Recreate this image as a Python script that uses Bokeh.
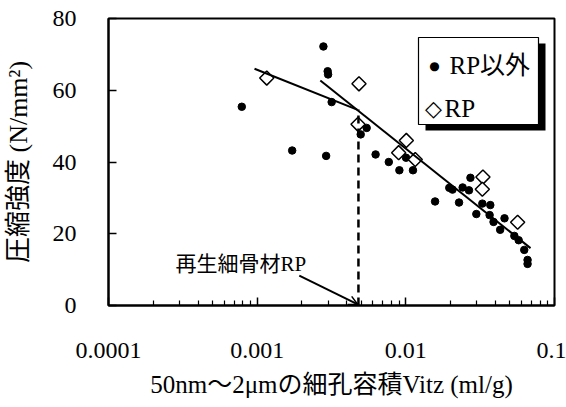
import math
from bokeh.plotting import figure
from bokeh.models import (FixedTicker, CustomJSTickFormatter,
                          Arrow, OpenHead, Range1d, Label, BoxAnnotation)
from bokeh.embed import file_html
from bokeh.resources import INLINE

SERIF = "'Liberation Serif', 'Noto Sans CJK JP'"
SYMBOL = "'DejaVu Sans'"

# ---- data ----
other_x = [0.000788, 0.00172, 0.00279, 0.00298, 0.00300, 0.00291, 0.00317,
           0.00497, 0.00545, 0.00626, 0.00768, 0.00905, 0.01003, 0.01117,
           0.01573, 0.0196, 0.0206, 0.0228, 0.0241, 0.0266, 0.0272, 0.0298,
           0.0327, 0.0370, 0.0366, 0.0389, 0.0461, 0.0431, 0.0537, 0.0574,
           0.0626, 0.0659, 0.0659]
other_y = [55.4, 43.2, 72.2, 65.3, 64.4, 41.7, 56.7,
           47.7, 49.5, 42.1, 40.0, 37.7, 41.2, 37.7,
           29.0, 32.8, 32.3, 28.7, 32.9, 32.1, 35.6, 25.5,
           28.4, 28.0, 25.2, 23.3, 24.3, 21.1, 19.4, 18.2,
           15.5, 12.7, 11.6]

rp_x = [0.00116, 0.00484, 0.00477, 0.00895, 0.01008, 0.01157, 0.0330, 0.0327, 0.0565]
rp_y = [63.4, 61.8, 50.5, 42.6, 46.0, 40.7, 35.8, 32.4, 23.2]

fit1_x = [0.00096, 0.0047]
fit1_y = [66.0, 54.6]
fit2_x = [0.00266, 0.069]
fit2_y = [62.7, 16.0]

rp_vitz = [0.0048, 0.0048]
rp_vitz_y = [0, 54.6]

ann_text = "再生細骨材RP"
ann_xy = (0.000282, 11.7)
arrow_start = (0.00192, 8.3)
arrow_end = (0.00475, 0.3)

x_ticks = [0.0001, 0.001, 0.01, 0.1]
x_tick_labels = ["0.0001", "0.001", "0.01", "0.1"]
x_minor = [m * 10.0 ** e for e in (-4, -3, -2) for m in range(2, 10)]
y_ticks = [0, 20, 40, 60, 80]

x_title = "50nm～2μmの細孔容積Vitz (ml/g)"
y_title = "圧縮強度 (N/mm²)"

legend_labels = ["RP以外", "RP"]
legend_symbols = ["●", "◇"]

# ---- figure ----
p = figure(width=566, height=407, x_axis_type="log",
           x_range=Range1d(1e-4, 1e-1), y_range=Range1d(0, 80),
           output_backend="svg", toolbar_location=None,
           min_border_left=106, min_border_right=12,
           min_border_top=18, min_border_bottom=102)
p.xgrid.visible = False
p.ygrid.visible = False
p.outline_line_color = "black"
p.outline_line_width = 2
p.outline_line_alpha = 1.0
p.background_fill_color = "white"
p.border_fill_color = "white"

for ax in (p.xaxis[0], p.yaxis[0]):
    ax.axis_line_width = 2
    ax.axis_line_color = "black"
    ax.major_tick_in = 8
    ax.major_tick_out = 0
    ax.major_tick_line_width = 1.5
    ax.minor_tick_in = 5
    ax.minor_tick_out = 0
    ax.minor_tick_line_width = 1.2
    ax.major_label_text_font = SERIF
    ax.major_label_text_font_size = "24px"
    ax.major_label_text_color = "black"
    ax.axis_label_text_font = SERIF
    ax.axis_label_text_font_style = "normal"
    ax.axis_label_text_color = "black"

xa = p.xaxis[0]
xa.ticker = FixedTicker(ticks=x_ticks, minor_ticks=x_minor)
xa.formatter = CustomJSTickFormatter(args=dict(labels=x_tick_labels),
                                     code="return labels[index]")
xa.major_label_standoff = 37
xa.axis_label = x_title
xa.axis_label_text_font_size = "25px"
xa.axis_label_standoff = 10

ya = p.yaxis[0]
ya.ticker = FixedTicker(ticks=y_ticks)
ya.minor_tick_line_color = None
ya.major_label_standoff = 32
ya.axis_label = y_title
ya.axis_label_text_font_size = "26px"
ya.axis_label_standoff = 17

# ---- marks ----
r_other = p.scatter(other_x, other_y, marker="circle", size=7.5,
                    fill_color="black", line_color="black")
r_rp = p.scatter(rp_x, rp_y, marker="square", angle=math.pi / 4, size=10,
                 fill_color="white", line_color="black", line_width=1.5)
p.line(fit1_x, fit1_y, line_color="black", line_width=2)
p.line(fit2_x, fit2_y, line_color="black", line_width=2)
p.line(rp_vitz, rp_vitz_y, line_color="black", line_width=2.5, line_dash="8 5")

p.add_layout(Label(x=ann_xy[0], y=ann_xy[1], text=ann_text,
                   text_font=SERIF, text_font_size="21px",
                   text_align="left", text_baseline="middle", text_color="black"))
p.add_layout(Arrow(end=OpenHead(size=9, line_width=1.5, line_color="black"),
                   x_start=arrow_start[0], y_start=arrow_start[1],
                   x_end=arrow_end[0], y_end=arrow_end[1],
                   line_width=2, line_color="black"))

# ---- legend box with drop shadow (screen units, relative to the frame) ----
box_l, box_r, box_b, box_t = 310, 430, 181, 268
shadow_dx, shadow_dy = 7, -6
p.add_layout(BoxAnnotation(left=box_l + shadow_dx, right=box_r + shadow_dx,
                           bottom=box_b + shadow_dy, top=box_t + shadow_dy,
                           left_units="screen", right_units="screen",
                           bottom_units="screen", top_units="screen",
                           fill_color="black", fill_alpha=1.0, line_color=None,
                           propagate_hover=False))
p.add_layout(BoxAnnotation(left=box_l, right=box_r, bottom=box_b, top=box_t,
                           left_units="screen", right_units="screen",
                           bottom_units="screen", top_units="screen",
                           fill_color="white", fill_alpha=1.0,
                           line_color="black", line_width=1.2, line_alpha=1.0,
                           propagate_hover=False))

rows_y = [240, 197]
sym_x = [326, 325]
sym_size = ["12px", "22px"]
text_x = [341, 336]
for i in range(2):
    p.add_layout(Label(x=sym_x[i], y=rows_y[i], x_units="screen", y_units="screen",
                       text=legend_symbols[i], text_font=SYMBOL,
                       text_font_size=sym_size[i], text_align="center",
                       text_baseline="middle", text_color="black"))
    p.add_layout(Label(x=text_x[i], y=rows_y[i], x_units="screen", y_units="screen",
                       text=legend_labels[i], text_font=SERIF,
                       text_font_size="25px", text_align="left",
                       text_baseline="middle", text_color="black"))

open("out.html", "w").write(file_html(p, INLINE))
